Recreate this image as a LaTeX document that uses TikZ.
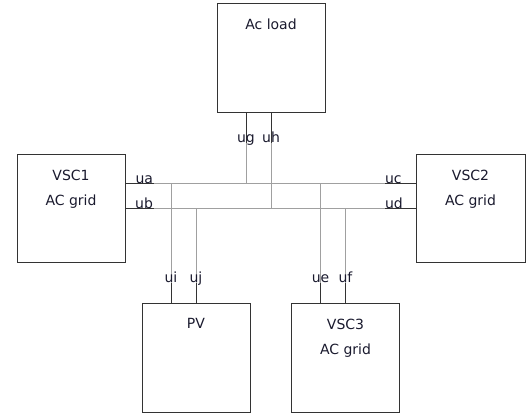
\documentclass[tikz,border=0pt]{standalone}
\usepackage{fontspec}
\setmainfont{DejaVu Sans}
\usetikzlibrary{positioning}

\definecolor{boxline}{HTML}{333333}
\definecolor{busline}{HTML}{A0A0A0}
\definecolor{labeltext}{HTML}{1A1A2E}

\begin{document}
\begin{tikzpicture}[x=1pt,y=-1pt]
	\tikzstyle{every node}=[font=\fontsize{14}{25}\selectfont,text=labeltext]
	\tikzstyle{unit}=[draw=boxline,line width=1pt,minimum width=108pt,minimum height=108pt,inner sep=0pt]
	\tikzstyle{unittitle}=[anchor=north,yshift=-16pt,align=center,inner sep=0pt]
	\tikzstyle{stub}=[draw=boxline,line width=1pt]
	\tikzstyle{bus}=[draw=busline,line width=1pt]
	\tikzstyle{pin}=[inner sep=0pt]

	\useasboundingbox (0,0) rectangle (527,413);

	%% units
	\node [unit,minimum height=109pt,label={[unittitle]north:Ac load}] (load) at (271,57.5) {};
	\node [unit,label={[unittitle]north:{VSC1\\AC grid}}] (vsc1) at (71,208) {};
	\node [unit,minimum width=109pt,label={[unittitle]north:{VSC2\\AC grid}}] (vsc2) at (470.5,208) {};
	\node [unit,minimum height=109pt,label={[unittitle]north:PV}] (pv) at (196,357.5) {};
	\node [unit,minimum height=109pt,label={[unittitle]north:{VSC3\\AC grid}}] (vsc3) at (345.5,357.5) {};

	%% terminals
	\draw [stub] ([yshift=25pt]vsc1.east) -- ++(28,0) coordinate (ua) node [pin,anchor=base east] {ua};
	\draw [stub] (vsc1.east) -- ++(28,0) coordinate (ub) node [pin,anchor=base east] {ub};
	\draw [stub] ([yshift=25pt]vsc2.west) -- ++(-31,0) coordinate (uc) node [pin,anchor=base west] {uc};
	\draw [stub] (vsc2.west) -- ++(-31,0) coordinate (ud) node [pin,anchor=base west] {ud};
	\draw [stub] ([xshift=-25pt]load.south) -- ++(0,30) coordinate (ug);
	\draw [stub] (load.south) -- ++(0,30) coordinate (uh);
	\draw [stub] ([xshift=-25pt]pv.north) -- ++(0,-20) coordinate (ui);
	\draw [stub] (pv.north) -- ++(0,-20) coordinate (uj);
	\draw [stub] ([xshift=-25pt]vsc3.north) -- ++(0,-20) coordinate (ue);
	\draw [stub] (vsc3.north) -- ++(0,-20) coordinate (uf);

	%% buses
	\draw [bus] (ua) -- (uc);
	\draw [bus] (ub) -- (ud);
	\draw [bus] (ug) -- (ug |- ua);
	\draw [bus] (uh) -- (uh |- ub);
	\draw [bus] (ui) -- (ui |- ua);
	\draw [bus] (uj) -- (uj |- ub);
	\draw [bus] (ue) -- (ue |- uc);
	\draw [bus] (uf) -- (uf |- ud);

	\node [pin,anchor=base] (ugtext) at (ug) {ug};
	\node [pin,anchor=base] (uhtext) at (uh) {uh};
	\node [pin,anchor=base] (uitext) at (ui) {ui};
	\node [pin,anchor=base] (ujtext) at (uj) {uj};
	\node [pin,anchor=base] (uetext) at (ue) {ue};
	\node [pin,anchor=base] (uftext) at (uf) {uf};

\end{tikzpicture}
\end{document}
